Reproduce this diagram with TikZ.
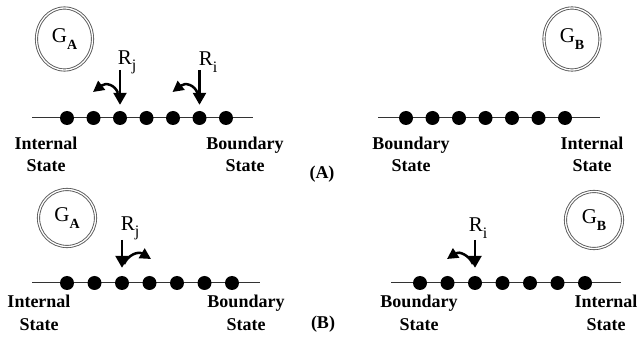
\documentclass[tikz,border=0pt]{standalone}
\usepackage{fontspec}
\setmainfont{Liberation Serif}
\usetikzlibrary{shapes.geometric,arrows.meta}
\newcommand\gsub[1]{\raisebox{-0.35em}{\fontsize{14}{14}\selectfont\bfseries #1}}
\newcommand\rsub[1]{\raisebox{-0.3em}{\fontsize{16}{16}\selectfont #1}}
\begin{document}
\begin{tikzpicture}[x=1pt,y=-1pt,
  dotn/.style={circle,fill=black,inner sep=0pt,minimum size=14pt},
  track/.style={draw=black!80,line width=1pt},
  lbl/.style={font=\bfseries\fontsize{18}{22.5}\selectfont,align=center,inner sep=0pt},
  gbox/.style={draw=black!65,double=white,double distance=1.3pt,line width=0.9pt,inner sep=0pt,font=\fontsize{21}{21}\selectfont},
  gell/.style={gbox,ellipse,minimum width=56pt,minimum height=62pt},
  gcirc/.style={gbox,circle,minimum size=57pt},
  shaft/.style={line width=2.5pt,-{Triangle[width=13pt,length=12pt]},shorten >=6pt},
  hook/.style={line width=2.5pt,-{Triangle[width=11pt,length=11pt]}},
  rlbl/.style={font=\fontsize{21}{21}\selectfont,inner sep=0pt}
]
\useasboundingbox (0,0) rectangle (638,339);

% ---------- Panel A ----------
\node[gell] (gaA) at (64.5,39) {G\gsub{A}};
\node[gell] (gbA) at (572,39) {G\gsub{B}};

\coordinate (aL1) at (32,118); \coordinate (aL2) at (253,118);
\draw[track] (aL1) -- (aL2);
\foreach \i in {1,...,7} \node[dotn] (dA\i) at ({67+26.5*(\i-1)},118) {};
\coordinate (aR1) at (378,118); \coordinate (aR2) at (600,118);
\draw[track] (aR1) -- (aR2);
\foreach \i in {1,...,7} \node[dotn] (eA\i) at ({406+26.5*(\i-1)},118) {};

\node[rlbl] (rjA) at (127,62) {R\rsub{j}};
\node[rlbl] (riA) at (208,62) {R\rsub{i}};
\coordinate (rjAt) at (120,70); \coordinate (riAt) at (199.5,70);
\draw[shaft] (rjAt) -- (dA3);
\draw[shaft] (riAt) -- (dA6);
\coordinate (rjAh) at (118,93); \coordinate (rjAe) at (93,92);
\draw[hook] (rjAh) .. controls (115,85) and (106,82) .. (rjAe);
\coordinate (riAh) at (197.5,93); \coordinate (riAe) at (172.5,92);
\draw[hook] (riAh) .. controls (194.5,85) and (185.5,82) .. (riAe);

\node[lbl] (inA1) at (46,154.5) {Internal\\State};
\node[lbl] (bdA1) at (245,154.5) {Boundary\\State};
\node[lbl] (bdA2) at (411,154.5) {Boundary\\State};
\node[lbl] (inA2) at (592,154.5) {Internal\\State};
\node[lbl] (capA) at (322,174) {(A)};

% ---------- Panel B ----------
\node[gcirc] (gaB) at (67,218) {G\gsub{A}};
\node[gcirc] (gbB) at (594,220) {G\gsub{B}};

\coordinate (bL1) at (32,283); \coordinate (bL2) at (260,283);
\draw[track] (bL1) -- (bL2);
\foreach \i in {1,...,7} \node[dotn] (dB\i) at ({67+27.5*(\i-1)},283) {};
\coordinate (bR1) at (391,283); \coordinate (bR2) at (621,283);
\draw[track] (bR1) -- (bR2);
\foreach \i in {1,...,7} \node[dotn] (eB\i) at ({420+27.5*(\i-1)},283) {};

\node[rlbl] (rjB) at (130,228) {R\rsub{j}};
\node[rlbl] (riB) at (478,228) {R\rsub{i}};
\coordinate (rjBt) at (122,240); \coordinate (riBt) at (475,240);
\draw[shaft,shorten >=8pt] (rjBt) -- (dB3);
\draw[shaft,shorten >=8pt] (riBt) -- (eB3);
\coordinate (rjBh) at (124,264); \coordinate (rjBe) at (151,259);
\draw[hook] (rjBh) .. controls (128,255) and (138,251) .. (rjBe);
\coordinate (riBh) at (473,264); \coordinate (riBe) at (447,259);
\draw[hook] (riBh) .. controls (469,255) and (459,251) .. (riBe);

\node[lbl] (inB1) at (39,313) {Internal\\State};
\node[lbl] (bdB1) at (246,313) {Boundary\\State};
\node[lbl] (bdB2) at (419,313) {Boundary\\State};
\node[lbl] (inB2) at (606,313) {Internal\\State};
\node[lbl] (capB) at (323,324) {(B)};
\end{tikzpicture}
\end{document}
